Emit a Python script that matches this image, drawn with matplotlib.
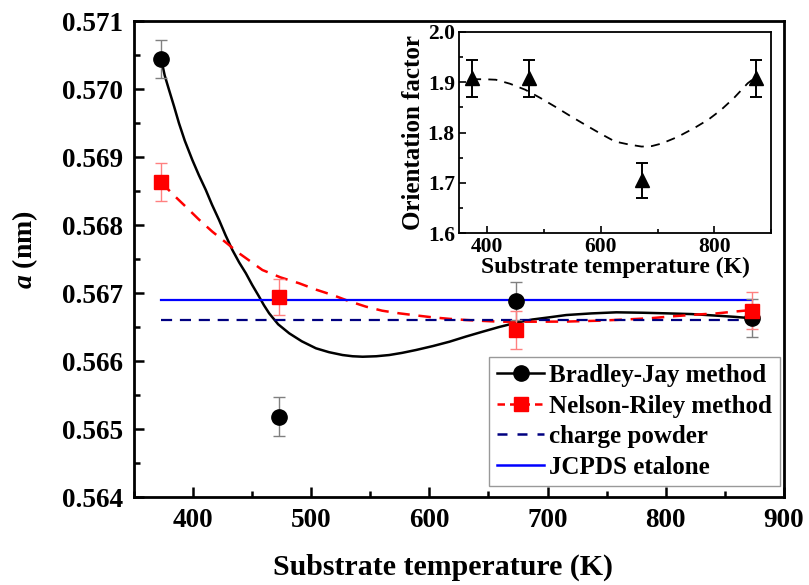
import matplotlib

matplotlib.use("Agg")
import matplotlib.pyplot as plt
from matplotlib.ticker import MultipleLocator

plt.rcParams["font.family"] = ["Liberation Serif", "DejaVu Serif"]
plt.rcParams["font.weight"] = "bold"
plt.rcParams["axes.labelweight"] = "bold"
plt.rcParams["mathtext.fontset"] = "custom"
plt.rcParams["mathtext.rm"] = "Liberation Serif:bold"
plt.rcParams["mathtext.it"] = "Liberation Serif:italic:bold"
plt.rcParams["mathtext.bf"] = "Liberation Serif:bold"
plt.rcParams["mathtext.bfit"] = "Liberation Serif:italic:bold"

# measured points
temps = [373, 473, 673, 873]
bradley_jay = [0.57044, 0.56518, 0.56688, 0.56663]
bradley_jay_err = [0.00028, 0.00029, 0.00028, 0.00028]
nelson_riley = [0.56863, 0.56694, 0.56646, 0.56674]
nelson_riley_err = [0.00028, 0.00027, 0.00028, 0.00027]
charge_powder = 0.56660
jcpds = 0.56689

# fitted curves
bj_fit_t = [373, 376, 379.7, 384, 388.1, 393, 399.4, 405, 410.8, 416, 422.0,
            427.5, 433.3, 439, 444.7, 450, 455.9, 460, 464.4, 472, 481.4,
            492, 504, 515, 526.5, 535, 543.5, 555, 566, 577, 588.7, 603,
            617, 631, 645, 659, 673.5, 687, 701.7, 715.8, 737, 758.2, 780,
            800.6, 822, 843, 858, 873]
bj_fit_v = [0.57044, 0.57020, 0.569985, 0.56974, 0.569496, 0.56924, 0.568956,
            0.56873, 0.568515, 0.56830, 0.568074, 0.56785, 0.567632, 0.56745,
            0.567290, 0.56712, 0.566946, 0.56682, 0.566701, 0.56654, 0.566407,
            0.56629, 0.566187, 0.56613, 0.566088, 0.56607, 0.566063, 0.56607,
            0.566088, 0.56612, 0.566162, 0.56622, 0.566284, 0.56636, 0.566431,
            0.56650, 0.566563, 0.56661, 0.566643, 0.566676, 0.56670, 0.566716,
            0.56671, 0.566701, 0.56669, 0.566667, 0.56665, 0.566628]
nr_fit_t = [373, 383, 393.8, 405, 416.4, 428, 439, 449, 458.7, 474, 489.8,
            504, 518, 532, 546.4, 560, 574.6, 589, 602.8, 617, 631, 645,
            659.3, 687.5, 716, 744, 765, 786, 808, 828.8, 843, 857, 873]
nr_fit_v = [0.56863, 0.56845, 0.56827, 0.56808, 0.567901, 0.56774, 0.567584,
            0.56746, 0.567338, 0.56723, 0.567143, 0.56705, 0.566971, 0.56688,
            0.566799, 0.56674, 0.566701, 0.56667, 0.566642, 0.56662, 0.566603,
            0.56659, 0.566578, 0.566578, 0.56658, 0.566593, 0.56661, 0.566628,
            0.56666, 0.566686, 0.56670, 0.566725, 0.56675]

# inset: orientation factor
orient = [1.908, 1.908, 1.705, 1.908]
orient_err = [0.037, 0.037, 0.035, 0.037]
orient_fit_t = [373, 395, 415, 440, 467, 493, 520, 546, 573, 599, 625, 650,
                672, 690, 707, 735, 765, 790, 812, 835, 859, 873]
orient_fit_v = [1.906, 1.906, 1.905, 1.897, 1.885, 1.869, 1.851, 1.833,
                1.815, 1.798, 1.782, 1.776, 1.772, 1.773, 1.778, 1.791,
                1.809, 1.826, 1.845, 1.869, 1.898, 1.910]

fig = plt.figure(figsize=(8.09, 5.85), dpi=100)
ax = fig.add_axes([0.1656, 0.1504, 0.8034, 0.8137])

ax.plot(bj_fit_t, bj_fit_v, color="black", lw=1.8)
ax.plot(nr_fit_t, nr_fit_v, color="red", lw=1.8, ls=(0, (5, 3.5)))
ax.plot([temps[0], temps[-1]], [charge_powder, charge_powder],
        color="#000080", lw=1.6, ls=(0, (5, 3.5)))
ax.plot([temps[0], temps[-1]], [jcpds, jcpds], color="blue", lw=1.6)
ax.errorbar(temps, bradley_jay, yerr=bradley_jay_err, fmt="none",
            ecolor="#808080", elinewidth=1.0, capsize=4, capthick=1.0)
ax.errorbar(temps, nelson_riley, yerr=nelson_riley_err, fmt="none",
            ecolor="#ff8080", elinewidth=1.0, capsize=4, capthick=1.0)
ax.plot(temps, bradley_jay, "o", color="black", ms=11, zorder=5)
ax.plot(temps, nelson_riley, "s", color="red", ms=10, zorder=5)

h_bj, = ax.plot([], [], "-o", color="black", ms=11, lw=1.8)
h_nr, = ax.plot([], [], "s", color="red", ms=10, ls=(0, (3, 2)), lw=1.8)
h_cp, = ax.plot([], [], color="#000080", lw=1.8, ls=(0, (4, 4)))
h_jc, = ax.plot([], [], color="blue", lw=1.8)
leg = ax.legend([h_bj, h_nr, h_cp, h_jc],
                ["Bradley-Jay method", "Nelson-Riley method",
                 "charge powder", "JCPDS etalone"],
                loc="lower right", bbox_to_anchor=(0.9935, 0.023),
                fontsize=18, frameon=True, fancybox=False, edgecolor="#808080",
                borderpad=0.3, labelspacing=0.3, handlelength=1.9,
                handletextpad=0.2, borderaxespad=0)
leg.get_frame().set_linewidth(1.0)

ax.set_xlim(350, 900)
ax.set_ylim(0.564, 0.571)
ax.xaxis.set_major_locator(MultipleLocator(100))
ax.xaxis.set_minor_locator(MultipleLocator(50))
ax.yaxis.set_major_locator(MultipleLocator(0.001))
ax.yaxis.set_minor_locator(MultipleLocator(0.0005))
ax.yaxis.set_major_formatter(plt.FormatStrFormatter("%.3f"))
ax.tick_params(which="both", direction="in", width=1.8, labelsize=19.5,
               top=False, right=False)
ax.tick_params(which="major", length=7, pad=8)
ax.tick_params(which="minor", length=4)
for spine in ax.spines.values():
    spine.set_linewidth(2.0)
ax.set_xlabel("Substrate temperature (K)", fontsize=21.5)
ax.xaxis.set_label_coords(0.475, -0.12)
ax.set_ylabel(r"$\mathbfit{a}$ (nm)", fontsize=20)
ax.yaxis.set_label_coords(-0.145, 0.52)

# inset
ins = fig.add_axes([0.5674, 0.6017, 0.3856, 0.3436])
ins.errorbar(temps, orient, yerr=orient_err, fmt="none", ecolor="black",
             elinewidth=1.4, capsize=4, capthick=1.4)
ins.plot(orient_fit_t, orient_fit_v, color="black", lw=1.3, ls=(0, (5, 4)))
ins.plot(temps, orient, "^", color="black", ms=10, zorder=5)
ins.set_xlim(350, 900)
ins.set_ylim(1.6, 2.0)
ins.xaxis.set_major_locator(MultipleLocator(200))
ins.xaxis.set_minor_locator(MultipleLocator(100))
ins.yaxis.set_major_locator(MultipleLocator(0.1))
ins.yaxis.set_minor_locator(MultipleLocator(0.05))
ins.tick_params(which="both", direction="in", width=1.2, labelsize=15.5,
                top=False, right=False, pad=3)
ins.tick_params(which="major", length=5)
ins.tick_params(which="minor", length=3)
for spine in ins.spines.values():
    spine.set_linewidth(1.3)
ins.set_xlabel("Substrate temperature (K)", fontsize=17, labelpad=0)
ins.set_ylabel("Orientation factor", fontsize=18, labelpad=2)

fig.savefig("out.png", dpi=100)
